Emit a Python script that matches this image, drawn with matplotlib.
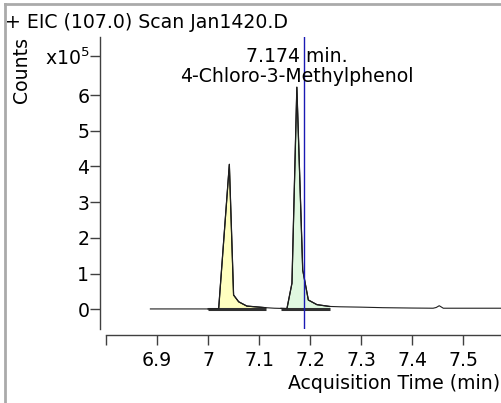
import matplotlib
matplotlib.use("Agg")
import matplotlib.pyplot as plt
from matplotlib.lines import Line2D
import numpy as np

# trace (EIC 107.0), counts in units of 1e5
times = [6.887, 6.95, 7.000, 7.0208, 7.0417, 7.050, 7.060, 7.076, 7.113, 7.13,
         7.143, 7.1546, 7.1644, 7.174, 7.1855, 7.1965, 7.2133, 7.238, 7.259, 7.30,
         7.343, 7.40, 7.441, 7.447, 7.453, 7.461, 7.50, 7.576]
counts = [0.01, 0.01, 0.01, 0.02, 4.06, 0.40, 0.21, 0.09, 0.045, 0.03,
          0.025, 0.02, 0.73, 6.22, 1.10, 0.26, 0.13, 0.08, 0.07, 0.06,
          0.045, 0.035, 0.03, 0.05, 0.10, 0.03, 0.03, 0.03]

# integrated peaks: start, end, fill colour
peak_start = [7.000, 7.143]
peak_end = [7.113, 7.238]
peak_colors = ['#ffffc0', '#e0f8e0']

rt_marker = 7.1885
apex_time = 7.174
apex_label = ['7.174 min.', '4-Chloro-3-Methylphenol']

xticks = [6.8, 6.9, 7.0, 7.1, 7.2, 7.3, 7.4, 7.5]
xticklabels = ['', '6.9', '7', '7.1', '7.2', '7.3', '7.4', '7.5']
yticks = [0, 1, 2, 3, 4, 5, 6, 7.1]
yticklabels = ['0', '1', '2', '3', '4', '5', '6', 'x10$^5$']

t = np.array(times)
c = np.array(counts) * 1e5
fs = 13.6

plt.rcParams['font.family'] = 'DejaVu Sans'
fig = plt.figure(figsize=(5.02, 4.03), dpi=100)
ax = fig.add_axes([106 / 502, 1 - 329 / 403, 396 / 502, 292 / 403])

for a, b, col in zip(peak_start, peak_end, peak_colors):
    m = (t >= a) & (t <= b)
    ax.fill_between(t[m], 0, c[m], color=col, lw=0)
    ax.plot(t[m], c[m], color='black', lw=0.9)
    ax.plot([a, b], [0, 0], color='#303030', lw=2.2, solid_capstyle='butt')

ax.plot(t, c, color='#202020', lw=0.8)
ax.axvline(rt_marker, color='#1a1ab4', lw=1)

ax.text(apex_time, 7.07e5, apex_label[0], ha='center', va='center', fontsize=fs)
ax.text(apex_time, 6.51e5, apex_label[1], ha='center', va='center', fontsize=fs)

ax.set_xlim(6.801, 7.576)
ax.set_ylim(-0.552e5, 7.627e5)
ax.set_xticks(xticks)
ax.set_xticklabels(xticklabels)
ax.set_yticks([v * 1e5 for v in yticks])
ax.set_yticklabels(yticklabels)

for s in ['top', 'right']:
    ax.spines[s].set_visible(False)
ax.spines['left'].set_position(('outward', 4))
ax.spines['bottom'].set_position(('outward', 4))
for s in ['left', 'bottom']:
    ax.spines[s].set_color('#404040')
    ax.spines[s].set_linewidth(1)
ax.tick_params(axis='both', direction='out', length=7, width=1, color='#404040',
               labelsize=fs, pad=1)
ax.tick_params(axis='x', pad=5)

ax.set_xlabel('Acquisition Time (min)', fontsize=fs, ha='right', x=0.995, labelpad=3)
fig.text(22 / 502, 1 - 70 / 403, 'Counts', rotation=90, ha='center', va='center', fontsize=fs)
fig.text(5 / 502, 1 - 22 / 403, '+ EIC (107.0) Scan Jan1420.D', ha='left', va='center', fontsize=fs)

# window frame of the source screenshot
fig.add_artist(Line2D([5 / 502, 1], [1 - 4 / 403] * 2, transform=fig.transFigure, color='#aaaaaa', lw=2))
fig.add_artist(Line2D([5 / 502] * 2, [0, 1 - 4 / 403], transform=fig.transFigure, color='#aaaaaa', lw=2))

fig.savefig('out.png', dpi=100)
